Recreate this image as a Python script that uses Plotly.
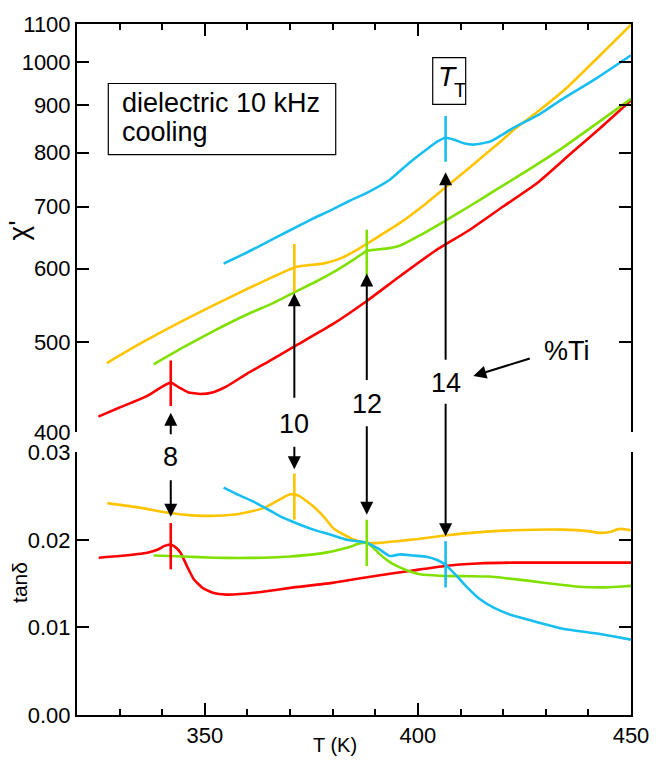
import math
import plotly.graph_objects as go

# ---- data -------------------------------------------------------------
# real part of the dielectric susceptibility (upper panel, log scale)
T_chi_8 = [325, 330, 336.5, 340, 342, 344, 346, 349, 352, 355, 360, 365, 371,
           380, 388, 396, 404, 412, 420, 428, 436, 443, 450]
chi_8 = [416, 425.5, 438, 448, 452.5, 447, 442, 440, 442, 448, 463, 477, 495,
         523, 554, 590, 627, 660, 700, 742, 799, 852, 911]

T_chi_10 = [327, 335, 344.3, 352, 360, 366, 371, 374, 378, 382, 386, 388, 391,
            396, 401, 406, 412, 418, 423, 428.6, 435, 442, 450]
chi_10 = [475, 499, 526, 548, 571, 588, 602, 605, 608, 616, 630, 638, 651,
          673, 700, 731, 770, 812, 850, 889, 940, 1010, 1098]

T_chi_12 = [338, 345, 352, 360, 366, 371, 376, 381, 385, 388, 390, 393, 396,
            400, 406, 412, 418, 426, 434, 442, 450]
chi_12 = [473.5, 494, 514, 536, 551, 566, 581, 598, 614, 627, 629, 631, 636,
          650, 674, 700, 728, 767, 810, 860, 914]

T_chi_14 = [354.4, 360, 364.6, 370, 375, 379.4, 384, 388, 393.4, 398, 402,
            404.5, 406.5, 408.5, 411, 413, 416.9, 422.3, 428.6, 434, 441.8, 450]
chi_14 = [607.6, 625, 641, 660, 678, 693, 710, 724, 748, 780, 806,
          822, 830, 826, 818, 816, 822, 850, 880, 914, 961, 1018]

# loss tangent (lower panel)
T_tan_8 = [325.1, 330, 336.5, 339, 340.4, 341.9, 343, 344.3, 346, 347.4, 349.5,
           352.1, 355, 358.3, 364, 370.8, 379.4, 385, 391.1, 398.1, 406.3, 414,
           422.3, 435, 450]
tan_8 = [0.01796, 0.01815, 0.01853, 0.0189, 0.01928, 0.01947, 0.0192, 0.01853,
         0.0168, 0.01551, 0.0145, 0.01392, 0.01375, 0.01381, 0.0141, 0.01457,
         0.01506, 0.0155, 0.01596, 0.01645, 0.01702, 0.0173, 0.0174, 0.0174,
         0.0174]

T_tan_10 = [327.1, 335, 341.9, 347, 352.9, 358, 363.8, 367, 370, 372, 375.5, 378,
            380.2, 384.9, 388, 391, 395, 400, 406.3, 414, 422.3, 434, 440, 442.6,
            445, 447.3, 450]
tan_10 = [0.02419, 0.02365, 0.02306, 0.0228, 0.02275, 0.02295, 0.02362, 0.02445,
          0.02521, 0.02505, 0.0238, 0.0226, 0.0213, 0.02004, 0.01966, 0.01965,
          0.01985, 0.0201, 0.02049, 0.02085, 0.02109, 0.02117, 0.021, 0.0208,
          0.0209, 0.02125, 0.02109]

T_tan_12 = [338, 345, 352.1, 358, 363.8, 370, 375.5, 379, 381.7, 384.1, 386, 388,
            389.5, 391.1, 393, 395, 397.5, 400.5, 406.3, 412, 416.9, 421, 426.2,
            432, 437.9, 443.4, 447, 450]
tan_12 = [0.01822, 0.0181, 0.01796, 0.01793, 0.01796, 0.0181, 0.01834, 0.0186,
          0.0189, 0.0192, 0.01955, 0.01966, 0.0191, 0.01834, 0.0176, 0.01702,
          0.0165, 0.01607, 0.01588, 0.01585, 0.01581, 0.0156, 0.01532, 0.01495,
          0.01464, 0.01457, 0.01465, 0.01475]

T_tan_14 = [354.4, 358, 361.4, 364.5, 367.7, 371.5, 375.5, 379.4, 383.3, 388, 391,
            393.4, 395.8, 399, 402, 404.5, 406.3, 409.1, 411.5, 414.5, 418, 422.3,
            428, 434, 442, 450]
tan_14 = [0.02596, 0.0251, 0.02437, 0.02355, 0.02268, 0.0219, 0.02117, 0.0206,
          0.0200, 0.01966, 0.0189, 0.01815, 0.01834, 0.0182, 0.01808, 0.0177,
          0.01721, 0.01588, 0.0146, 0.01324, 0.0122, 0.01136, 0.0106, 0.00985,
          0.0093, 0.0086]

# Ti content and transition temperature T_T of each sample
ti_labels = ["8", "10", "12", "14"]
T_trans = [342, 371, 388, 406.5]
# extent of the vertical tick marking T_T in each panel
chi_mark = [(427, 478), (567, 638), (590, 661), (782, 876)]
tan_mark = [(0.01664, 0.02192), (0.0223, 0.02759), (0.017, 0.0223),
            (0.01457, 0.01985)]

colors = ["#ff0000", "#ffc400", "#80e000", "#18bef0"]

chi_tick_vals = [400, 500, 600, 700, 800, 900, 1000, 1100]
tan_tick_vals = [0.0, 0.01, 0.02, 0.03]
tan_tick_text = ["0.00", "0.01", "0.02", "0.03"]

# ---- figure -----------------------------------------------------------
FONT = "Liberation Sans, Arial, sans-serif"
fig = go.Figure()

chi_series = [(T_chi_8, chi_8), (T_chi_10, chi_10), (T_chi_12, chi_12),
              (T_chi_14, chi_14)]
tan_series = [(T_tan_8, tan_8), (T_tan_10, tan_10), (T_tan_12, tan_12),
              (T_tan_14, tan_14)]

for (tx, ty), c in zip(chi_series, colors):
    fig.add_trace(go.Scatter(x=tx, y=ty, mode="lines", xaxis="x", yaxis="y",
                             line=dict(color=c, width=2.6, shape="spline",
                                       smoothing=0.5),
                             showlegend=False, hoverinfo="skip"))
for (tx, ty), c in zip(tan_series, colors):
    fig.add_trace(go.Scatter(x=tx, y=ty, mode="lines", xaxis="x2", yaxis="y2",
                             line=dict(color=c, width=2.6, shape="spline",
                                       smoothing=0.5),
                             showlegend=False, hoverinfo="skip"))

# vertical ticks at the transition temperatures
for tt, (lo, hi), c in zip(T_trans, chi_mark, colors):
    fig.add_trace(go.Scatter(x=[tt, tt], y=[lo, hi], mode="lines",
                             xaxis="x", yaxis="y",
                             line=dict(color=c, width=2.6),
                             showlegend=False, hoverinfo="skip"))
for tt, (lo, hi), c in zip(T_trans, tan_mark, colors):
    fig.add_trace(go.Scatter(x=[tt, tt], y=[lo, hi], mode="lines",
                             xaxis="x2", yaxis="y2",
                             line=dict(color=c, width=2.6),
                             showlegend=False, hoverinfo="skip"))

axis_common = dict(showline=True, linecolor="black", linewidth=2,
                   ticks="inside", tickcolor="black", tickwidth=2, ticklen=12,
                   showgrid=False, zeroline=False,
                   tickfont=dict(family=FONT, size=22, color="black"))

TOP_DOM = [0.4089, 1.0]
BOT_DOM = [0.0, 0.3802]

fig.update_layout(
    width=661, height=760,
    margin=dict(l=77, r=30, t=20, b=43),
    paper_bgcolor="white", plot_bgcolor="white",
    font=dict(family=FONT, color="black"),
    xaxis=dict(axis_common, domain=[0, 1], anchor="y", side="top",
               range=[320, 450], tick0=350, dtick=50, showticklabels=False,
               minor=dict(ticks="inside", ticklen=6, tickwidth=2,
                          tickcolor="black", dtick=10, tick0=350)),
    xaxis2=dict(axis_common, domain=[0, 1], anchor="y2", matches="x",
                range=[320, 450], tick0=350, dtick=50,
                minor=dict(ticks="inside", ticklen=6, tickwidth=2,
                           tickcolor="black", dtick=10, tick0=350)),
    yaxis=dict(axis_common, domain=TOP_DOM, anchor="x", type="log",
               range=[math.log10(400), math.log10(1100)],
               tickmode="array", tickvals=chi_tick_vals,
               ticktext=[str(v) for v in chi_tick_vals], mirror="ticks"),
    yaxis2=dict(axis_common, domain=BOT_DOM, anchor="x2",
                range=[0, 0.03], tickmode="array", tickvals=tan_tick_vals,
                ticktext=tan_tick_text, mirror="ticks"),
)

# ---- annotations ------------------------------------------------------
def lg(v):
    return math.log10(v)

ARROW = dict(showarrow=True, arrowhead=2, arrowsize=1.3, arrowwidth=2,
             arrowcolor="black", text="", standoff=0)

# (tip chi, tail offset px) for upward arrows in the upper panel
up_tips = [420, 564.6, 593, 762]
up_tails = [23, 106, 108, 189]
# (tip tan, tail offset px) for downward arrows in the lower panel
down_tips = [0.02264, 0.02807, 0.02287, 0.02041]
down_tails = [-38, -24, -90, -134]
# label positions in the panel coordinates
label_pos = [("y2", 0.02943), ("y", lg(408.9)), ("y", lg(429)), ("y", lg(452.6))]

for tt, ut, uo, dt, do, lab, (yr, yv) in zip(T_trans, up_tips, up_tails,
                                              down_tips, down_tails,
                                              ti_labels, label_pos):
    fig.add_annotation(ARROW, x=tt, y=lg(ut), xref="x", yref="y", ax=0, ay=uo)
    fig.add_annotation(ARROW, x=tt, y=dt, xref="x2", yref="y2", ax=0, ay=do)
    fig.add_annotation(x=tt, y=yv, xref="x" if yr == "y" else "x2", yref=yr,
                       xanchor="center", yanchor="middle",
                       text=lab, showarrow=False,
                       font=dict(family=FONT, size=27, color="black"))

# %Ti pointer
fig.add_annotation(ARROW, x=413, y=lg(460), xref="x", yref="y", ax=58, ay=-18)
fig.add_annotation(x=429, y=lg(489), xref="x", yref="y", xanchor="left",
                   yanchor="middle", text="%Ti", showarrow=False,
                   font=dict(family=FONT, size=27, color="black"))

# measurement info box
fig.add_shape(type="rect", xref="paper", yref="paper",
              x0=0.0565, x1=0.4670, y0=0.8110, y1=0.9139,
              line=dict(color="black", width=1.2), fillcolor="rgba(0,0,0,0)")
for line_text, yp in [("dielectric 10 kHz", 0.8860), ("cooling", 0.8430)]:
    fig.add_annotation(x=0.0770, y=yp, xref="paper", yref="paper",
                       xanchor="left", yanchor="middle", align="left",
                       text=line_text, showarrow=False,
                       font=dict(family=FONT, size=27, color="black"))

# T_T tag
fig.add_shape(type="rect", xref="paper", yref="paper",
              x0=0.6421, x1=0.7016, y0=0.8838, y1=0.9512,
              line=dict(color="black", width=1.2), fillcolor="rgba(0,0,0,0)")
fig.add_annotation(x=0.6480, y=0.9240, xref="paper", yref="paper",
                   xanchor="left", yanchor="middle",
                   text="<i>T</i>", showarrow=False,
                   font=dict(family=FONT, size=28, color="black"))
fig.add_annotation(x=0.6775, y=0.9040, xref="paper", yref="paper",
                   xanchor="left", yanchor="middle",
                   text="T", showarrow=False,
                   font=dict(family=FONT, size=20, color="black"))

# axis titles
fig.add_annotation(x=-0.1060, y=0.7016, xref="paper", yref="paper",
                   xanchor="center", yanchor="middle",
                   text="χ'", textangle=-90, showarrow=False,
                   font=dict(family=FONT, size=28, color="black"))
fig.add_annotation(x=-0.1050, y=0.1923, xref="paper", yref="paper",
                   xanchor="center", yanchor="middle",
                   text="tanδ", textangle=-90, showarrow=False,
                   font=dict(family=FONT, size=21, color="black"))
fig.add_annotation(x=0.466, y=-0.043, xref="paper", yref="paper",
                   xanchor="center", yanchor="middle",
                   text="T (K)", showarrow=False,
                   font=dict(family=FONT, size=20, color="black"))

fig.write_html("out.html")
